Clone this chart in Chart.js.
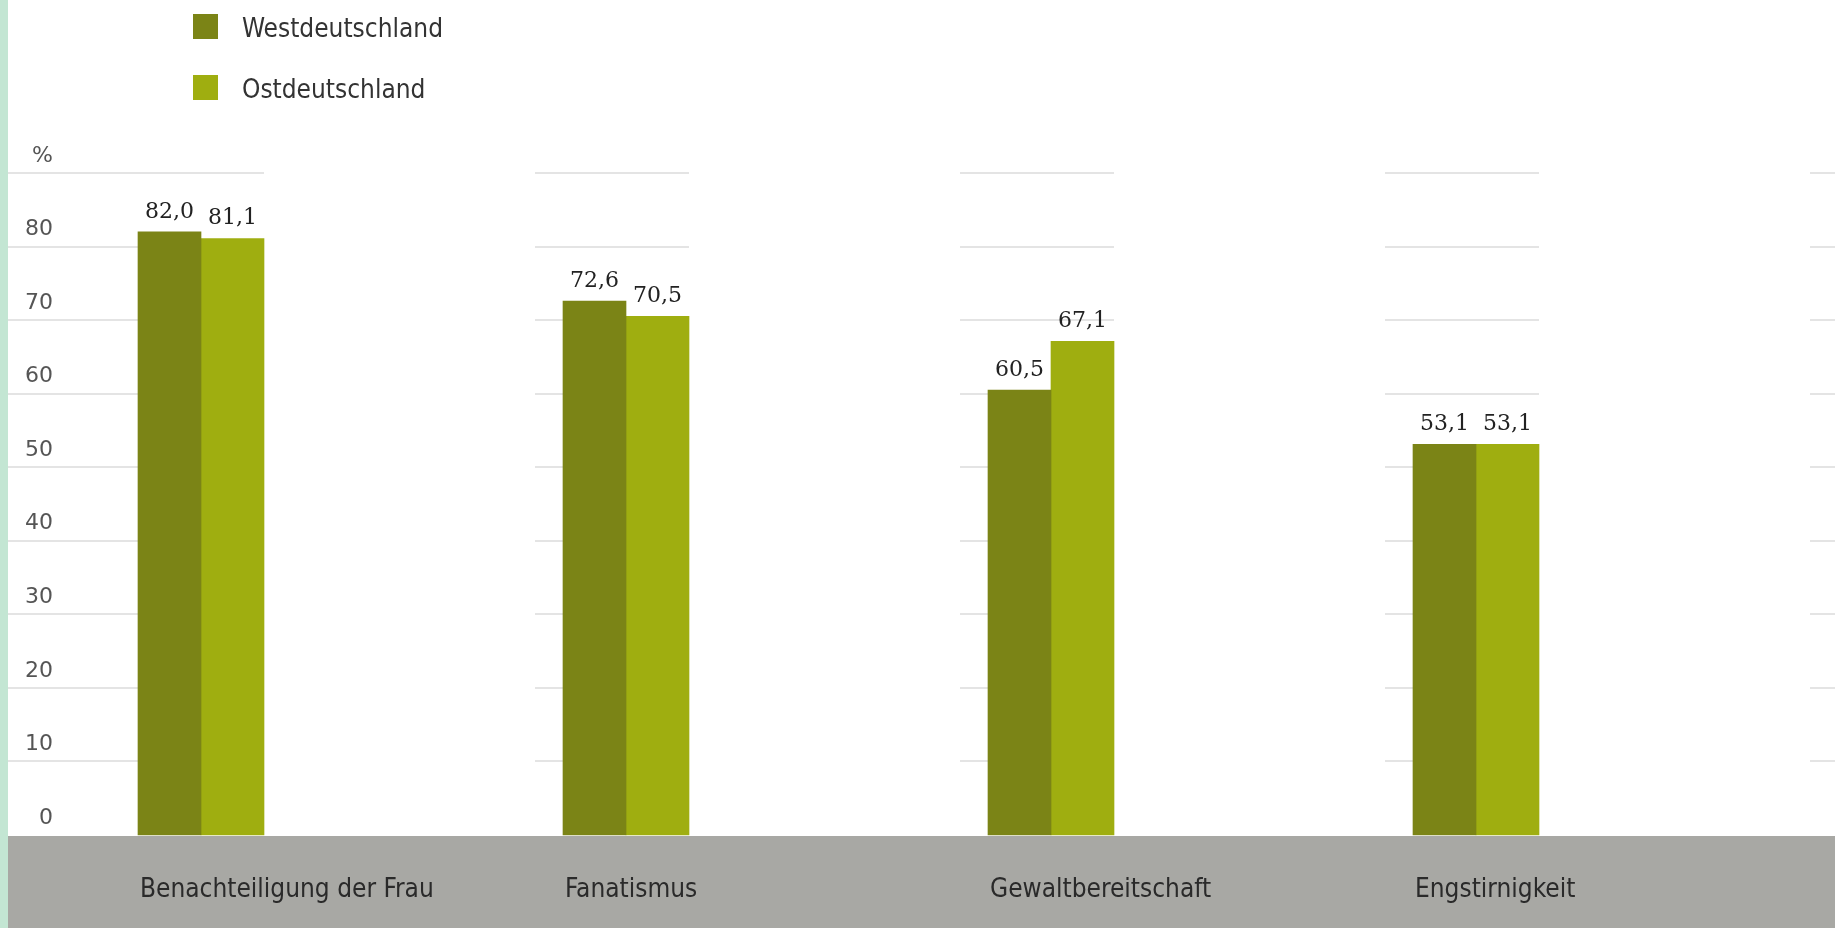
<!DOCTYPE html>
<html>
<head>
<meta charset="utf-8">
<script src="https://cdn.jsdelivr.net/npm/chart.js@4"></script>
<style>
  html, body { margin: 0; padding: 0; background: #fff; }
</style>
</head>
<body>
<canvas id="chart" width="1835" height="928"></canvas>
<script>
const categories = ['Benachteiligung der Frau', 'Fanatismus', 'Gewaltbereitschaft', 'Engstirnigkeit'];
const westValues = [82.0, 72.6, 60.5, 53.1];
const ostValues = [81.1, 70.5, 67.1, 53.1];
const seriesNames = ['Westdeutschland', 'Ostdeutschland'];
const seriesColors = ['#7b8416', '#9fae10'];
const yMax = 90;
const yStep = 10;
const yUnit = '%';

const fmt = v => v.toFixed(1).replace('.', ',');

// mint strip on the left + grey band under the axis
const background = {
  id: 'background',
  beforeDraw(chart) {
    const { ctx, width, height, chartArea } = chart;
    ctx.save();
    ctx.fillStyle = '#c3e6d3';
    ctx.fillRect(0, 0, 8, height);
    ctx.fillStyle = '#a8a8a4';
    ctx.fillRect(8, chartArea.bottom + 1, width - 8, height - chartArea.bottom - 1);
    ctx.restore();
  }
};

// gridlines only show around each bar group in the original
const gridSegments = {
  id: 'gridSegments',
  beforeDatasetsDraw(chart) {
    const { ctx, scales: { x, y } } = chart;
    const west = chart.getDatasetMeta(0).data;
    const ost = chart.getDatasetMeta(1).data;
    const step = x.getPixelForValue(1) - x.getPixelForValue(0);
    const spans = west.map((bar, i) => [i === 0 ? 8 : bar.x - bar.width / 2 - 28, ost[i].x + ost[i].width / 2]);
    const last = west[west.length - 1];
    spans.push([last.x + step - last.width / 2 - 28, chart.width]);
    ctx.save();
    ctx.strokeStyle = '#e4e4e4';
    ctx.lineWidth = 2;
    y.ticks.forEach(t => {
      if (t.value === 0) return;
      const py = Math.round(y.getPixelForValue(t.value));
      spans.forEach(([a, b]) => {
        ctx.beginPath();
        ctx.moveTo(a, py);
        ctx.lineTo(b, py);
        ctx.stroke();
      });
    });
    ctx.restore();
  }
};

const valueLabels = {
  id: 'valueLabels',
  afterDatasetsDraw(chart) {
    const { ctx } = chart;
    ctx.save();
    ctx.font = '22px "DejaVu Serif"';
    ctx.fillStyle = '#222';
    ctx.textAlign = 'center';
    ctx.textBaseline = 'bottom';
    chart.data.datasets.forEach((ds, di) => {
      chart.getDatasetMeta(di).data.forEach((bar, i) => {
        ctx.fillText(fmt(ds.data[i]), bar.x, bar.y - 9);
      });
    });
    ctx.restore();
  }
};

const legendAndUnit = {
  id: 'legendAndUnit',
  afterDraw(chart) {
    const { ctx, scales: { y } } = chart;
    ctx.save();
    ctx.font = '26px "DejaVu Sans Condensed"';
    ctx.textBaseline = 'middle';
    chart.data.datasets.forEach((ds, i) => {
      const top = 14 + i * 61;
      ctx.fillStyle = ds.backgroundColor;
      ctx.fillRect(193, top, 25, 25);
      ctx.fillStyle = '#333';
      ctx.fillText(ds.label, 242, top + 16);
    });
    ctx.font = '22px "DejaVu Sans"';
    ctx.fillStyle = '#555';
    ctx.textAlign = 'right';
    ctx.fillText(yUnit, 53, y.getPixelForValue(yMax) - 17);
    ctx.restore();
  }
};

new Chart(document.getElementById('chart'), {
  type: 'bar',
  data: {
    labels: categories,
    datasets: [
      { label: seriesNames[0], data: westValues, backgroundColor: seriesColors[0] },
      { label: seriesNames[1], data: ostValues, backgroundColor: seriesColors[1] }
    ]
  },
  options: {
    responsive: false,
    animation: false,
    devicePixelRatio: 1,
    layout: { padding: { top: 173, right: 359, bottom: 0, left: 0 } },
    datasets: { bar: { barThickness: 63, clip: false } },
    plugins: { legend: { display: false }, tooltip: { enabled: false } },
    scales: {
      x: {
        offset: false,
        grid: { display: false, drawTicks: false },
        border: { display: false },
        afterFit: s => { s.height = 93; s.paddingLeft = 0; s.paddingRight = 0; },
        ticks: {
          align: 'start',
          labelOffset: -61,
          padding: 40,
          autoSkip: false,
          maxRotation: 0,
          color: '#2a2a2a',
          font: { family: '"DejaVu Sans Condensed"', size: 26 }
        }
      },
      y: {
        min: 0,
        max: yMax,
        grid: { display: false, drawTicks: false },
        border: { display: false },
        afterFit: s => { s.width = 201; s.paddingTop = 0; s.paddingBottom = 0; },
        ticks: {
          stepSize: yStep,
          padding: 148,
          labelOffset: -17,
          color: '#555',
          font: { family: '"DejaVu Sans"', size: 22 },
          callback: v => (v === yMax ? '' : v)
        }
      }
    }
  },
  plugins: [background, gridSegments, valueLabels, legendAndUnit]
});
</script>
</body>
</html>
